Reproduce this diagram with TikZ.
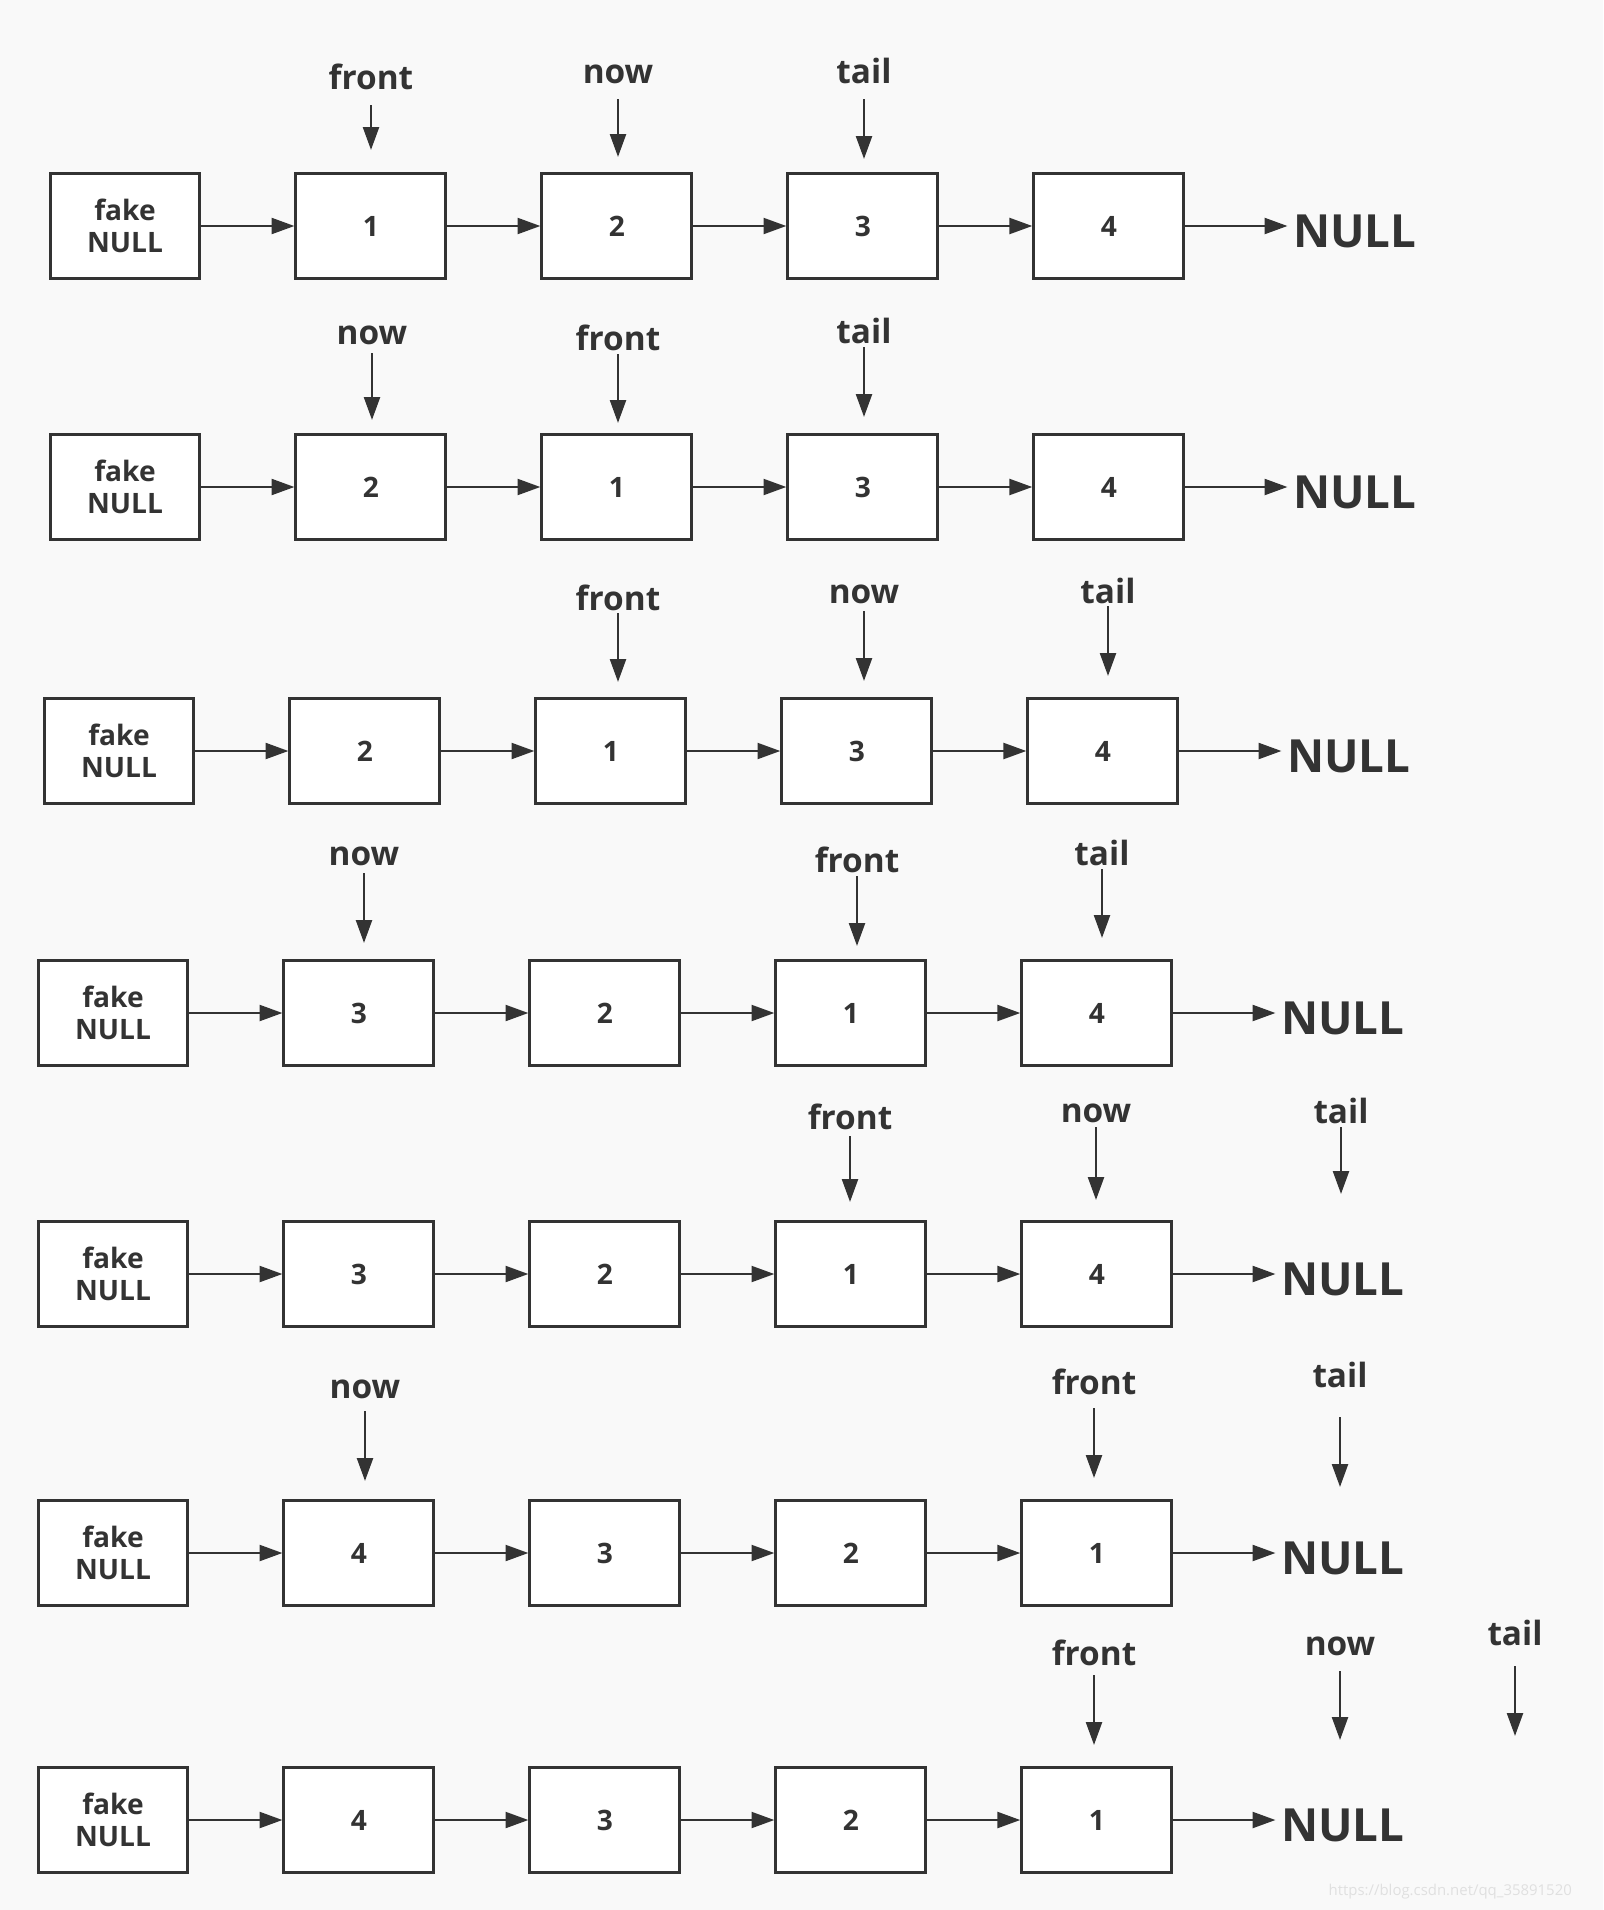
\documentclass[tikz,border=0pt]{standalone}
\usepackage{fontspec}
\setmainfont{Open Sans}
\usepackage{tikz}
\usetikzlibrary{shapes,arrows.meta}
\definecolor{ink}{RGB}{51,51,51}
\definecolor{paper}{RGB}{249,249,249}
\definecolor{wm}{RGB}{224,224,224}
\tikzstyle{cell} = [rectangle, minimum width=3cm, minimum height=2.1cm, align=center, draw=ink, fill=white, line width=1.7pt, text=ink, font=\bfseries\fontsize{16}{18}\selectfont]
\tikzstyle{nullend} = [inner sep=3pt, text height=24.5pt, text depth=0pt, text=ink, font=\bfseries\fontsize{26}{30}\selectfont]
\tikzstyle{ptr} = [inner sep=0pt, anchor=base, text=ink, font=\bfseries\fontsize{19}{22}\selectfont]
\tikzstyle{arrow} = [draw=ink, line width=1.5pt, -{Triangle[length=13pt,width=9pt]}]

\begin{document}
\begin{tikzpicture}[x=0.02cm, y=-0.02cm, node distance=4.92cm]
\fill [paper] (0,0) rectangle (1603,1910);
\useasboundingbox (0,0) rectangle (1603,1910);

% row 1
\node (head1) [cell] at (125,226) {fake\\NULL};
\node (a1) [cell, right of=head1] {1};
\node (b1) [cell, right of=a1] {2};
\node (c1) [cell, right of=b1] {3};
\node (d1) [cell, right of=c1] {4};
\node (null1) [nullend, right of=d1] {NULL};
\draw [arrow] (head1) -- (a1);
\draw [arrow] (a1) -- (b1);
\draw [arrow] (b1) -- (c1);
\draw [arrow] (c1) -- (d1);
\draw [arrow] (d1) -- (null1);
\node (front1) [ptr] at (371,89) {front};
\node (now1) [ptr] at (618,83) {now};
\node (tail1) [ptr] at (864,83) {tail};
\coordinate (frontpt1) at (371,150);
\coordinate (nowpt1) at (618,157);
\coordinate (tailpt1) at (864,159);
\draw [arrow] (front1.base) ++(0,16) -- (frontpt1);
\draw [arrow] (now1.base) ++(0,16) -- (nowpt1);
\draw [arrow] (tail1.base) ++(0,16) -- (tailpt1);

% row 2
\node (head2) [cell] at (125,487) {fake\\NULL};
\node (a2) [cell, right of=head2] {2};
\node (b2) [cell, right of=a2] {1};
\node (c2) [cell, right of=b2] {3};
\node (d2) [cell, right of=c2] {4};
\node (null2) [nullend, right of=d2] {NULL};
\draw [arrow] (head2) -- (a2);
\draw [arrow] (a2) -- (b2);
\draw [arrow] (b2) -- (c2);
\draw [arrow] (c2) -- (d2);
\draw [arrow] (d2) -- (null2);
\node (now2) [ptr] at (372,344) {now};
\node (front2) [ptr] at (618,350) {front};
\node (tail2) [ptr] at (864,343) {tail};
\coordinate (nowpt2) at (372,420);
\coordinate (frontpt2) at (618,423);
\coordinate (tailpt2) at (864,417);
\draw [arrow] (now2.base) ++(0,9) -- (nowpt2);
\draw [arrow] (front2.base) ++(0,4) -- (frontpt2);
\draw [arrow] (tail2.base) ++(0,4) -- (tailpt2);

% row 3
\node (head3) [cell] at (119,751) {fake\\NULL};
\node (a3) [cell, right of=head3] {2};
\node (b3) [cell, right of=a3] {1};
\node (c3) [cell, right of=b3] {3};
\node (d3) [cell, right of=c3] {4};
\node (null3) [nullend, right of=d3] {NULL};
\draw [arrow] (head3) -- (a3);
\draw [arrow] (a3) -- (b3);
\draw [arrow] (b3) -- (c3);
\draw [arrow] (c3) -- (d3);
\draw [arrow] (d3) -- (null3);
\node (front3) [ptr] at (618,610) {front};
\node (now3) [ptr] at (864,603) {now};
\node (tail3) [ptr] at (1108,603) {tail};
\coordinate (frontpt3) at (618,682);
\coordinate (nowpt3) at (864,681);
\coordinate (tailpt3) at (1108,676);
\draw [arrow] (front3.base) ++(0,3) -- (frontpt3);
\draw [arrow] (now3.base) ++(0,8) -- (nowpt3);
\draw [arrow] (tail3.base) ++(0,3) -- (tailpt3);

% row 4
\node (head4) [cell] at (113,1013) {fake\\NULL};
\node (a4) [cell, right of=head4] {3};
\node (b4) [cell, right of=a4] {2};
\node (c4) [cell, right of=b4] {1};
\node (d4) [cell, right of=c4] {4};
\node (null4) [nullend, right of=d4] {NULL};
\draw [arrow] (head4) -- (a4);
\draw [arrow] (a4) -- (b4);
\draw [arrow] (b4) -- (c4);
\draw [arrow] (c4) -- (d4);
\draw [arrow] (d4) -- (null4);
\node (now4) [ptr] at (364,865) {now};
\node (front4) [ptr] at (857,872) {front};
\node (tail4) [ptr] at (1102,865) {tail};
\coordinate (nowpt4) at (364,943);
\coordinate (frontpt4) at (857,946);
\coordinate (tailpt4) at (1102,938);
\draw [arrow] (now4.base) ++(0,8) -- (nowpt4);
\draw [arrow] (front4.base) ++(0,4) -- (frontpt4);
\draw [arrow] (tail4.base) ++(0,4) -- (tailpt4);

% row 5
\node (head5) [cell] at (113,1274) {fake\\NULL};
\node (a5) [cell, right of=head5] {3};
\node (b5) [cell, right of=a5] {2};
\node (c5) [cell, right of=b5] {1};
\node (d5) [cell, right of=c5] {4};
\node (null5) [nullend, right of=d5] {NULL};
\draw [arrow] (head5) -- (a5);
\draw [arrow] (a5) -- (b5);
\draw [arrow] (b5) -- (c5);
\draw [arrow] (c5) -- (d5);
\draw [arrow] (d5) -- (null5);
\node (front5) [ptr] at (850,1129) {front};
\node (now5) [ptr] at (1096,1122) {now};
\node (tail5) [ptr] at (1341,1123) {tail};
\coordinate (frontpt5) at (850,1202);
\coordinate (nowpt5) at (1096,1200);
\coordinate (tailpt5) at (1341,1194);
\draw [arrow] (front5.base) ++(0,7) -- (frontpt5);
\draw [arrow] (now5.base) ++(0,5) -- (nowpt5);
\draw [arrow] (tail5.base) ++(0,4) -- (tailpt5);

% row 6
\node (head6) [cell] at (113,1553) {fake\\NULL};
\node (a6) [cell, right of=head6] {4};
\node (b6) [cell, right of=a6] {3};
\node (c6) [cell, right of=b6] {2};
\node (d6) [cell, right of=c6] {1};
\node (null6) [nullend, right of=d6] {NULL};
\draw [arrow] (head6) -- (a6);
\draw [arrow] (a6) -- (b6);
\draw [arrow] (b6) -- (c6);
\draw [arrow] (c6) -- (d6);
\draw [arrow] (d6) -- (null6);
\node (now6) [ptr] at (365,1398) {now};
\node (front6) [ptr] at (1094,1394) {front};
\node (tail6) [ptr] at (1340,1387) {tail};
\coordinate (nowpt6) at (365,1481);
\coordinate (frontpt6) at (1094,1478);
\coordinate (tailpt6) at (1340,1487);
\draw [arrow] (now6.base) ++(0,13) -- (nowpt6);
\draw [arrow] (front6.base) ++(0,14) -- (frontpt6);
\draw [arrow] (tail6.base) ++(0,30) -- (tailpt6);

% row 7
\node (head7) [cell] at (113,1820) {fake\\NULL};
\node (a7) [cell, right of=head7] {4};
\node (b7) [cell, right of=a7] {3};
\node (c7) [cell, right of=b7] {2};
\node (d7) [cell, right of=c7] {1};
\node (null7) [nullend, right of=d7] {NULL};
\draw [arrow] (head7) -- (a7);
\draw [arrow] (a7) -- (b7);
\draw [arrow] (b7) -- (c7);
\draw [arrow] (c7) -- (d7);
\draw [arrow] (d7) -- (null7);
\node (front7) [ptr] at (1094,1665) {front};
\node (now7) [ptr] at (1340,1655) {now};
\node (tail7) [ptr] at (1515,1645) {tail};
\coordinate (frontpt7) at (1094,1745);
\coordinate (nowpt7) at (1340,1740);
\coordinate (tailpt7) at (1515,1736);
\draw [arrow] (front7.base) ++(0,10) -- (frontpt7);
\draw [arrow] (now7.base) ++(0,16) -- (nowpt7);
\draw [arrow] (tail7.base) ++(0,21) -- (tailpt7);

\node (mark) [anchor=east, text=wm, font=\fontsize{8.5}{10}\selectfont] at (1578,1892) {https://blog.csdn.net/qq\_35891520};
\end{tikzpicture}
\end{document}
